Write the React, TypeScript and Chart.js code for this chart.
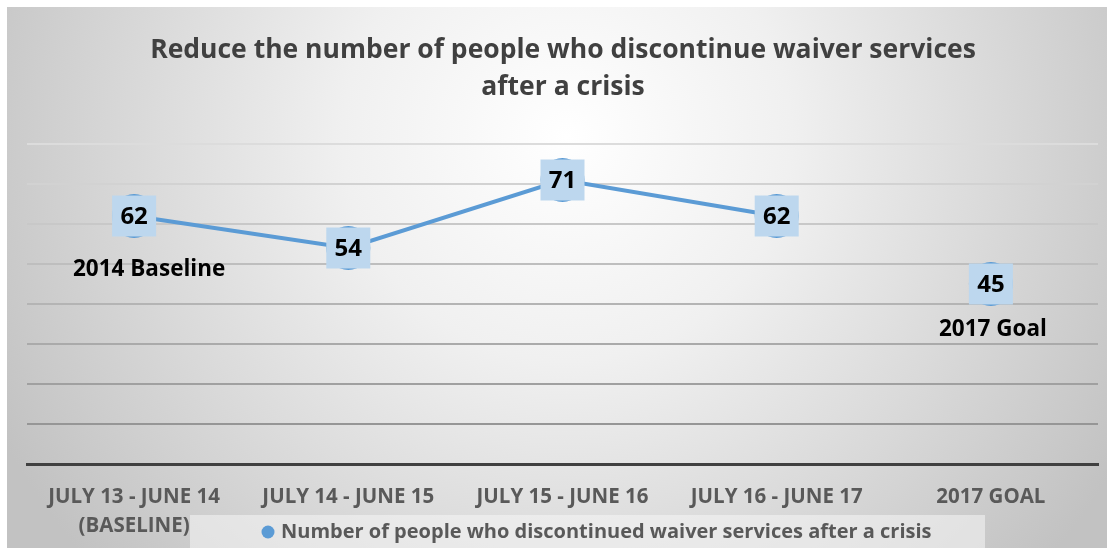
import React, { useEffect, useRef } from "react";
import { Chart, registerables } from "chart.js";

Chart.register(...registerables);

const TITLE_LINES = [
  "Reduce the number of people who discontinue waiver services",
  "after a crisis",
];
const CATEGORIES: (string | string[])[] = [
  ["JULY 13 - JUNE 14", "(BASELINE)"],
  "JULY 14 - JUNE 15",
  "JULY 15 - JUNE 16",
  "JULY 16 - JUNE 17",
  "2017 GOAL",
];
const SERIES_LABEL = "Number of people who discontinued waiver services after a crisis";
const SERIES_VALUES = [62, 54, 71, 62, 45];
// annotation text, anchored to a category index and a value on the y scale
const NOTE_TEXTS = ["2014 Baseline", "2017 Goal"];
const NOTE_INDEX = [0, 4];
const NOTE_VALUES = [48.5, 33.5];
const Y_MIN = 0;
const Y_MAX = 80;
const Y_STEP = 10;

const BLUE = "#5b9bd5";
const FONT = "'Open Sans', Lato, sans-serif";

const bgPlugin = {
  id: "bg",
  beforeDraw(chart: any) {
    const { ctx, width, height } = chart;
    ctx.save();
    const g = ctx.createRadialGradient(560, 130, 0, 560, 130, 640);
    g.addColorStop(0, "#ffffff");
    g.addColorStop(0.35, "#f0f0f0");
    g.addColorStop(1, "#c2c2c2");
    ctx.fillStyle = g;
    ctx.fillRect(0, 0, width, height);
    // legend (drawn under the axis labels)
    const lx = 183, ly = 508, lw = 795, lh = 33;
    ctx.fillStyle = "rgba(245,245,245,0.55)";
    ctx.fillRect(lx, ly, lw, lh);
    ctx.beginPath();
    ctx.arc(261, 525, 6.5, 0, Math.PI * 2);
    ctx.fillStyle = BLUE;
    ctx.fill();
    ctx.fillStyle = "#595959";
    ctx.font = `bold 20px ${FONT}`;
    ctx.textAlign = "left";
    ctx.textBaseline = "middle";
    ctx.fillText(chart.data.datasets[0].label, 274, 525);
    // title
    ctx.fillStyle = "#404040";
    ctx.font = `bold 26.5px ${FONT}`;
    ctx.textAlign = "center";
    ctx.fillText(TITLE_LINES[0], 556, 43);
    ctx.fillText(TITLE_LINES[1], 556, 80);
    ctx.restore();
  },
};

const overlayPlugin = {
  id: "overlay",
  afterDatasetsDraw(chart: any) {
    const { ctx } = chart;
    const meta = chart.getDatasetMeta(0);
    const xs = chart.scales.x;
    const ys = chart.scales.y;
    ctx.save();
    // data labels
    meta.data.forEach((pt: any, i: number) => {
      const w = 44;
      const h = 41;
      ctx.fillStyle = "#bdd7ee";
      ctx.fillRect(pt.x - w / 2, pt.y - h / 2, w, h);
      ctx.fillStyle = "#000";
      ctx.font = `bold 24px ${FONT}`;
      ctx.textAlign = "center";
      ctx.textBaseline = "middle";
      ctx.fillText(String(SERIES_VALUES[i]), pt.x, pt.y + 1);
    });
    // annotations
    NOTE_TEXTS.forEach((t, i) => {
      const x = xs.getPixelForValue(NOTE_INDEX[i]) + (i === 0 ? 15 : 2);
      const y = ys.getPixelForValue(NOTE_VALUES[i]);
      ctx.fillStyle = "#000";
      ctx.font = `bold 22.5px ${FONT}`;
      ctx.textAlign = "center";
      ctx.textBaseline = "middle";
      ctx.fillText(t, x, y);
    });
    ctx.restore();
  },
};

const gridShade = (v: number) => {
  // lighter lines near the top, darker near the bottom
  const f = (v - Y_STEP) / (Y_MAX - Y_STEP);
  const c = Math.round(150 + f * 70);
  return `rgb(${c},${c},${c})`;
};

export default function App() {
  const ref = useRef<HTMLCanvasElement>(null);
  useEffect(() => {
    if (!ref.current) return;
    const chart = new Chart(ref.current, {
      type: "line",
      data: {
        labels: CATEGORIES,
        datasets: [
          {
            label: SERIES_LABEL,
            data: SERIES_VALUES,
            borderColor: BLUE,
            backgroundColor: BLUE,
            borderWidth: 4,
            pointRadius: 22,
            pointBackgroundColor: BLUE,
            pointBorderWidth: 0,
            tension: 0,
            segment: {
              borderColor: (c: any) => (c.p1DataIndex === SERIES_VALUES.length - 1 ? "transparent" : BLUE),
            },
          },
        ],
      },
      options: {
        animation: false,
        responsive: true,
        maintainAspectRatio: false,
        layout: { autoPadding: false, padding: { top: 137, left: 20, right: 9, bottom: 0 } },
        plugins: {
          legend: { display: false },
          title: { display: false },
          tooltip: { enabled: false },
        },
        scales: {
          x: {
            offset: true,
            afterFit: (scale: any) => {
              scale.height = 84;
            },
            grid: { display: false, drawTicks: false },
            border: { display: true, color: "#404040", width: 3 },
            ticks: {
              color: "#595959",
              font: { family: FONT, size: 20.5, weight: "bold", lineHeight: 1.415 },
              padding: 19,
              maxRotation: 0,
              autoSkip: false,
            },
          },
          y: {
            min: Y_MIN,
            max: Y_MAX,
            ticks: { display: false, stepSize: Y_STEP },
            border: { display: false },
            grid: {
              drawTicks: false,
              lineWidth: (c: any) => (c.tick && c.tick.value === 0 ? 0 : 2),
              color: (c: any) => gridShade(c.tick ? c.tick.value : Y_MAX),
            },
          },
        },
      },
      plugins: [bgPlugin, overlayPlugin],
    });
    return () => chart.destroy();
  }, []);
  return (
    <div style={{ position: "fixed", left: 7, top: 7, width: 1100, height: 541 }}>
      <canvas ref={ref} />
    </div>
  );
}
